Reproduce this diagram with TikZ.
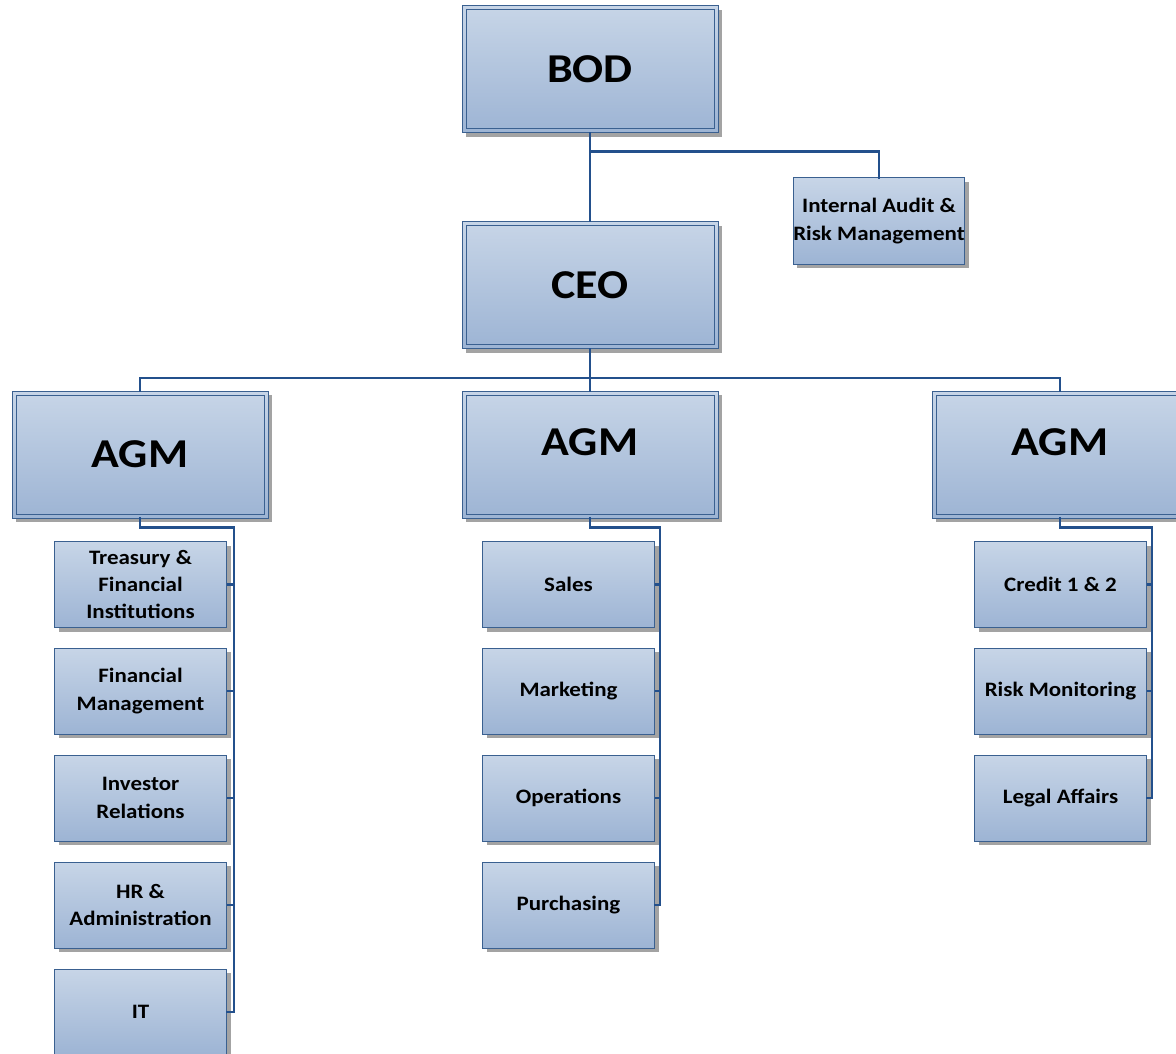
\documentclass[tikz,border=0pt]{standalone}
\usepackage{fontspec}
\setmainfont{Carlito}[FakeStretch=1.12]
\usetikzlibrary{shadows}
\definecolor{borderc}{HTML}{3A6090}
\definecolor{linec}{HTML}{23508C}
\definecolor{filltop}{HTML}{C7D5E7}
\definecolor{fillbot}{HTML}{9DB4D4}
\definecolor{shadowc}{HTML}{A3A3A3}
\tikzset{
  boxbase/.style={rectangle, draw=borderc, line width=1pt, top color=filltop, bottom color=fillbot,
    drop shadow={shadow xshift=4pt, shadow yshift=-4pt, fill=shadowc, opacity=1}, inner sep=0pt, align=center},
  bigbox/.style={boxbase, minimum width=256pt, minimum height=127pt,
    font=\fontsize{41}{48}\selectfont\bfseries,
    path picture={\draw[borderc, line width=1pt]
      ([shift={(4pt,-4pt)}]path picture bounding box.north west) rectangle
      ([shift={(-4pt,4pt)}]path picture bounding box.south east);}},
  smallbox/.style={boxbase, minimum width=172pt, minimum height=86pt,
    font=\fontsize{20.5}{27.3}\selectfont\bfseries},
  conn/.style={draw=linec, line width=2.7pt, line cap=rect},
  tick/.style={draw=linec, line width=2.7pt}
}
\begin{document}
\begin{tikzpicture}[x=1pt, y=-1pt]
\useasboundingbox (0,0) rectangle (1176,1054);
\clip (0,0) rectangle (1176,1054);

\coordinate (bus) at (590,378);
\coordinate (lsp) at (234,0);
\coordinate (msp) at (660,0);
\coordinate (rsp) at (1152,0);

% top boxes
\node[bigbox] (bod) at (590,69.5) {BOD};
\node[bigbox] (ceo) at (590,285) {CEO};
\node[smallbox, minimum width=170pt] (ia) at (879,221) {Internal Audit \&\\Risk Management};

% AGMs
\node[bigbox] (agm1) at (140,454.5) {AGM};
\node[bigbox, text depth=24pt] (agm2) at (590,454.5) {AGM};
\node[bigbox, text depth=24pt] (agm3) at (1060,454.5) {AGM};

% left column
\node[smallbox] (l1) at (140.5,584.5) {Treasury \&\\Financial\\Institutions};
\node[smallbox] (l2) at (140.5,691) {Financial\\Management};
\node[smallbox] (l3) at (140.5,798) {Investor\\Relations};
\node[smallbox] (l4) at (140.5,905) {HR \&\\Administration};
\node[smallbox] (l5) at (140.5,1012) {IT};

% middle column
\node[smallbox] (m1) at (568.5,584.5) {Sales};
\node[smallbox] (m2) at (568.5,691) {Marketing};
\node[smallbox] (m3) at (568.5,798) {Operations};
\node[smallbox] (m4) at (568.5,905) {Purchasing};

% right column
\node[smallbox] (r1) at (1060.5,584.5) {Credit 1 \& 2};
\node[smallbox] (r2) at (1060.5,691) {Risk Monitoring};
\node[smallbox] (r3) at (1060.5,798) {Legal Affairs};

% connectors
\draw[conn] (bod.south) -- (ceo.north);
\draw[conn] (bod.south) |- ([yshift=26pt]ia.north) -- (ia.north);
\draw[conn] (ceo.south) -- (agm2.north);
\draw[conn] (agm1.north) |- (bus) -| (agm3.north);

\draw[conn] (agm1.south) -- ++(0,9) -| (l5.east -| lsp) -- (l5.east);
\foreach \n in {l1,l2,l3,l4} \draw[tick] (\n.east) -- (\n.east -| lsp);

\draw[conn] (agm2.south) -- ++(0,9) -| (m4.east -| msp) -- (m4.east);
\foreach \n in {m1,m2,m3} \draw[tick] (\n.east) -- (\n.east -| msp);

\draw[conn] (agm3.south) -- ++(0,9) -| (r3.east -| rsp) -- (r3.east);
\foreach \n in {r1,r2} \draw[tick] (\n.east) -- (\n.east -| rsp);
\end{tikzpicture}
\end{document}
